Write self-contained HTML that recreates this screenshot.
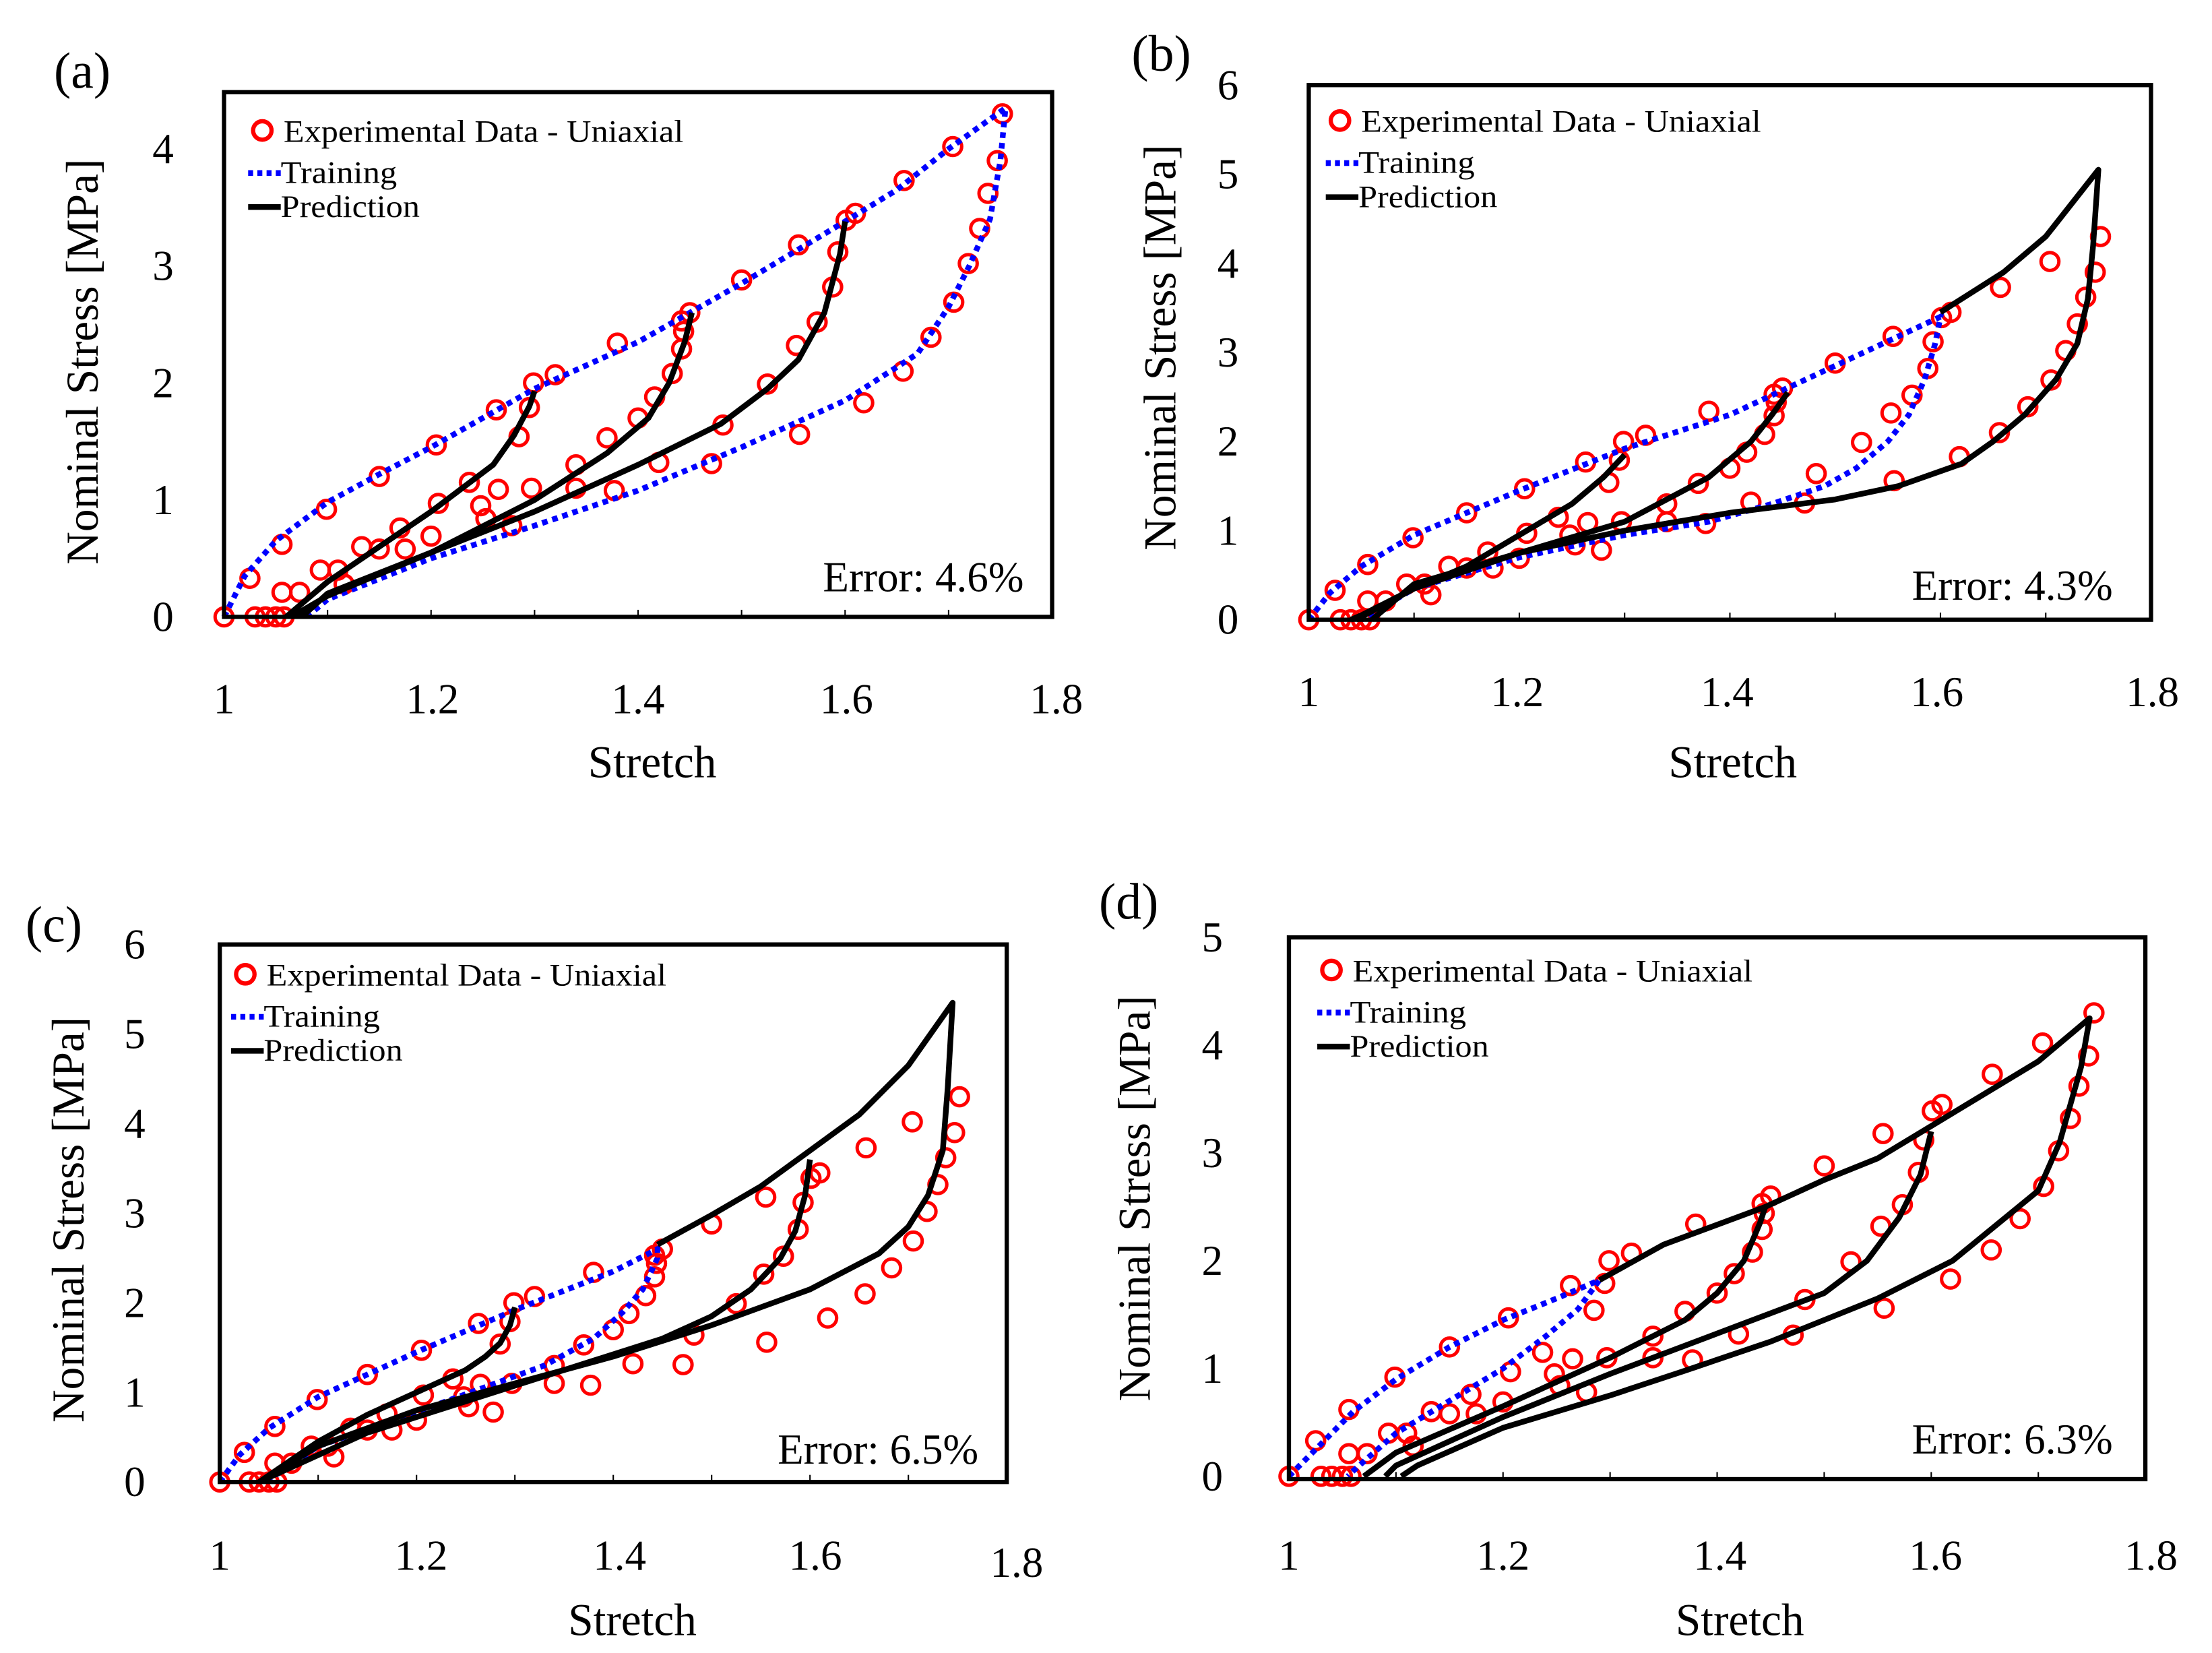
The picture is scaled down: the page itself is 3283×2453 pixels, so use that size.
<!DOCTYPE html>
<html><head><meta charset="utf-8"><style>
html,body{margin:0;padding:0;background:#fff;}
svg{display:block;}
text{font-family:"Liberation Serif",serif;fill:#000;}
</style></head><body>
<svg id="fig" xmlns="http://www.w3.org/2000/svg" width="3283" height="2453" viewBox="0 0 1560 1165.6" preserveAspectRatio="none"></svg>
<script>
// ---- experimental data (shared by all panels) ----
const expStretch = [1,1.025,1.056,1.03,1.04,1.05,1.058,1.056,1.073,1.099,1.093,1.11,1.116,1.133,1.15,1.15,1.17,1.175,1.2,1.205,1.207,1.237,1.248,1.253,1.263,1.265,1.278,1.285,1.295,1.299,1.32,1.297,1.34,1.34,1.37,1.38,1.377,1.4,1.416,1.42,1.433,1.442,1.442,1.45,1.444,1.471,1.482,1.5,1.525,1.553,1.555,1.556,1.573,1.588,1.593,1.601,1.61,1.618,1.656,1.657,1.683,1.704,1.705,1.719,1.73,1.738,1.747,1.752];
const expStress = [0,0.33,0.62,0,0,0,0,0.21,0.21,0.92,0.4,0.4,0.28,0.6,0.58,1.2,0.76,0.58,0.69,1.47,0.97,1.15,0.95,0.84,1.77,1.09,0.78,1.54,1.79,2.0,2.07,1.1,1.1,1.3,1.53,2.34,1.08,1.7,1.88,1.32,2.08,2.29,2.53,2.6,2.44,1.31,1.64,2.88,1.99,2.32,3.18,1.56,2.52,2.82,3.12,3.39,3.45,1.83,2.1,3.73,2.39,4.02,2.69,3.02,3.32,3.62,3.9,4.3];

// ---- panel (a) curves ----
const aTrainX = [1,1.02,1.05,1.1,1.15,1.2,1.3,1.4,1.5,1.6,1.65,1.7,1.755,1.75,1.74,1.72,1.7,1.67,1.6,1.5,1.4,1.3,1.2,1.1,1.08];
const aTrainY = [0,0.35,0.65,0.98,1.22,1.45,1.95,2.35,2.85,3.38,3.65,4.0,4.35,3.9,3.4,3.0,2.65,2.25,1.85,1.45,1.08,0.78,0.5,0.15,0];
const aPred1X = [1.3,1.295,1.28,1.26,1.23,1.2,1.15,1.1,1.06];
const aPred1Y = [1.93,1.8,1.55,1.3,1.1,0.9,0.6,0.3,0];
const aPred2X = [1.452,1.445,1.43,1.41,1.37,1.3,1.2,1.1,1.065];
const aPred2Y = [2.6,2.35,2.0,1.7,1.4,1.0,0.55,0.18,0];
const aPred3X = [1.6,1.595,1.58,1.555,1.525,1.48,1.4,1.3,1.2,1.1,1.075];
const aPred3Y = [3.38,3.1,2.6,2.2,1.95,1.65,1.3,0.9,0.55,0.2,0];

// ---- panel (b) curves ----
const bTrainX = [1,1.02,1.05,1.1,1.15,1.2,1.3,1.4,1.5,1.6,1.595,1.585,1.57,1.55,1.52,1.49,1.44,1.38,1.3,1.2,1.1,1.05];
const bTrainY = [0,0.3,0.6,0.95,1.2,1.45,1.92,2.3,2.85,3.4,3.1,2.7,2.3,2.0,1.7,1.5,1.3,1.1,0.95,0.7,0.35,0];
const bPred1X = [1.3,1.28,1.25,1.2,1.15,1.1,1.05,1.04];
const bPred1Y = [1.85,1.6,1.3,0.95,0.6,0.35,0.05,0];
const bPred2X = [1.455,1.44,1.42,1.38,1.3,1.2,1.1,1.045];
const bPred2Y = [2.55,2.3,2.0,1.6,1.1,0.75,0.35,0];
const bPred3X = [1.6,1.66,1.7,1.75,1.745,1.74,1.73,1.71,1.68,1.65,1.62,1.56,1.5,1.4,1.35,1.3,1.2,1.1,1.06];
const bPred3Y = [3.45,3.9,4.3,5.05,4.2,3.6,3.1,2.7,2.3,2.0,1.75,1.5,1.35,1.2,1.1,1.0,0.75,0.4,0];

// ---- panel (c) curves ----
const cTrainX = [1,1.02,1.05,1.1,1.15,1.2,1.3,1.4,1.445,1.445,1.43,1.41,1.38,1.33,1.25,1.2,1.1,1.06,1.045];
const cTrainY = [0,0.3,0.6,0.95,1.2,1.45,1.92,2.35,2.6,2.5,2.15,1.9,1.6,1.3,0.98,0.78,0.4,0.1,0];
const cPred1X = [1.3,1.295,1.285,1.27,1.25,1.2,1.15,1.1,1.04];
const cPred1Y = [1.95,1.75,1.55,1.4,1.25,1.0,0.75,0.45,0];
const cPred2X = [1.445,1.5,1.55,1.6,1.65,1.7,1.745,1.74,1.735,1.72,1.7,1.67,1.6,1.5,1.4,1.3,1.2,1.1,1.04];
const cPred2Y = [2.65,2.98,3.3,3.7,4.1,4.65,5.35,4.4,3.7,3.2,2.85,2.55,2.15,1.75,1.4,1.1,0.8,0.4,0];
const cPred3X = [1.6,1.595,1.585,1.57,1.54,1.5,1.45,1.35,1.25,1.15,1.04];
const cPred3Y = [3.6,3.2,2.8,2.5,2.15,1.85,1.6,1.25,0.9,0.55,0];

// ---- panel (d) curves ----
const dTrainX = [1,1.03,1.06,1.1,1.15,1.2,1.25,1.29,1.27,1.24,1.2,1.15,1.1,1.06,1.055];
const dTrainY = [0,0.3,0.6,0.9,1.2,1.45,1.65,1.82,1.55,1.3,1.0,0.7,0.4,0.05,0];
const dPred1X = [1.29,1.35,1.445,1.5,1.55,1.6,1.65,1.7,1.748,1.74,1.72,1.7,1.62,1.55,1.45,1.37,1.3,1.2,1.12,1.105];
const dPred1Y = [1.82,2.15,2.5,2.75,2.95,3.25,3.55,3.85,4.25,3.8,3.1,2.65,2.0,1.65,1.25,0.98,0.75,0.45,0.1,0];
const dPred2X = [1.445,1.44,1.425,1.4,1.37,1.3,1.2,1.1,1.07];
const dPred2Y = [2.5,2.35,2.0,1.7,1.45,1.1,0.65,0.22,0];
const dPred3X = [1.6,1.59,1.57,1.54,1.5,1.42,1.3,1.2,1.1,1.09];
const dPred3Y = [3.2,2.8,2.4,2.0,1.7,1.4,0.95,0.55,0.1,0];

// ---- tick labels ----
const xTickLabels = ["1","1.2","1.4","1.6","1.8"];
const xTickValues = [1,1.2,1.4,1.6,1.8];
const aYTicks = [0,1,2,3,4];
const bYTicks = [0,1,2,3,4,5,6];
const cYTicks = [0,1,2,3,4,5,6];
const dYTicks = [0,1,2,3,4,5];
const errorLabels = ["Error: 4.6%","Error: 4.3%","Error: 6.5%","Error: 6.3%"];

const NS = "http://www.w3.org/2000/svg";
const svg = document.getElementById('fig');
function mk(tag, attrs, parent){
  const e = document.createElementNS(NS, tag);
  for (const k in attrs) e.setAttribute(k, attrs[k]);
  (parent||svg).appendChild(e);
  return e;
}

const panels = [
 {id:'a', L:158,R:742,T:65,B:435, yMax:4.485, yTicks:aYTicks, yLabX:115, lab:[38,62], title:[58,255], stretch:[460,548], xLabY:503, err:[722,417], leg:[185,92],
  train:[aTrainX,aTrainY], preds:[[aPred1X,aPred1Y],[aPred2X,aPred2Y],[aPred3X,aPred3Y]], xLabPos:[158,305,450,597,745]},
 {id:'b', L:923,R:1517,T:60,B:437, yMax:6.0, yTicks:bYTicks, yLabX:866, lab:[798,50], title:[818,245], stretch:[1222,548], xLabY:498, err:[1490,423], leg:[945,85],
  train:[bTrainX,bTrainY], preds:[[bPred1X,bPred1Y],[bPred2X,bPred2Y],[bPred3X,bPred3Y]], xLabPos:[923,1070,1218,1366,1518]},
 {id:'c', L:155,R:710,T:666,B:1045, yMax:6.0, yTicks:cYTicks, yLabX:95, lab:[18,664], title:[48,860], stretch:[446,1153], xLabY:1107, err:[690,1032], leg:[173,687],
  train:[cTrainX,cTrainY], preds:[[cPred1X,cPred1Y],[cPred2X,cPred2Y],[cPred3X,cPred3Y]], xLabPos:[155,297,437,575,717]},
 {id:'d', L:909,R:1513,T:661,B:1043, yMax:5.0, yTicks:dYTicks, yLabX:855, lab:[775,648], title:[800,845], stretch:[1227,1153], xLabY:1107, err:[1490,1025], leg:[939,684],
  train:[dTrainX,dTrainY], preds:[[dPred1X,dPred1Y],[dPred2X,dPred2Y],[dPred3X,dPred3Y]], xLabPos:[909,1060,1213,1365,1517]}
];

panels.forEach((p, pi) => {
  const g = mk('g', {});
  
  
  const sx = v => p.L + (v - 1) / 0.8 * (p.R - p.L);
  const y0 = p.id === 'd' ? p.B - 2 : p.B;
  const sy = v => y0 - v / p.yMax * (y0 - p.T);

  const lab = mk('text', {x:p.lab[0], y:p.lab[1], 'font-size':36}, g);
  lab.textContent = '(' + p.id + ')';
  
  

  for (let v = 1.1; v < 1.8; v += 0.1) {
    const t = mk('line', {x1:sx(v), x2:sx(v), y1:p.B, y2:p.B-5, stroke:'#000', 'stroke-width':1}, g);
    
    
  }
  xTickValues.forEach((v, i) => {
    const t = mk('text', {x:p.xLabPos[i], y:p.xLabY + (p.id==='c'&&i===4?5:0), 'font-size':30, 'text-anchor':'middle'}, g);
    t.textContent = xTickLabels[i];
    
    
  });
  p.yTicks.forEach(v => {
    const t = mk('text', {x:p.yLabX, y:sy(v) + 10, 'font-size':30, 'text-anchor':'middle'}, g);
    t.textContent = String(v);
    
    
  });
  const xt = mk('text', {x:p.stretch[0], y:p.stretch[1], 'font-size':32, 'text-anchor':'middle'}, g);
  xt.textContent = 'Stretch';
  
  
  const yt = mk('text', {x:0, y:0, 'font-size':32, 'text-anchor':'middle', transform:`translate(${p.title[0]+11},${p.title[1]}) rotate(-90)`}, g);
  yt.textContent = 'Nominal Stress [MPa]';
  
  

  expStretch.forEach((xv, i) => {
    const c = mk('circle', {cx:sx(xv), cy:sy(expStress[i]), r:6.3, fill:'none', stroke:'#ff0000', 'stroke-width':2.4}, g);
    
    
  });
  const tp = p.train[0].map((xv, i) => sx(xv) + ',' + sy(p.train[1][i])).join(' ');
  const tl = mk('polyline', {points:tp, fill:'none', stroke:'#0000ff', 'stroke-width':4, 'stroke-dasharray':'4,3.5'}, g);
  
  
  p.preds.forEach(cv => {
    const pts = cv[0].map((xv, i) => sx(xv) + ',' + sy(cv[1][i])).join(' ');
    const pl = mk('polyline', {points:pts, fill:'none', stroke:'#000', 'stroke-width':4, 'stroke-linejoin':'round'}, g);
    
    
  });
  const fr = mk('rect', {x:p.L, y:p.T, width:p.R-p.L, height:p.B-p.T, fill:'none', stroke:'#000', 'stroke-width':3}, g);
  
  

  const lg = mk('g', {}, g);
  
  
  const [lx, ly] = p.leg;
  const lc = mk('circle', {cx:lx, cy:ly, r:6.5, fill:'none', stroke:'#ff0000', 'stroke-width':3}, lg);
  
  
  const l1 = mk('text', {x:lx+15, y:ly+8, 'font-size':22, textLength:282, lengthAdjust:'spacingAndGlyphs'}, lg);
  l1.textContent = 'Experimental Data - Uniaxial';
  
  
  const b1 = mk('line', {x1:lx-10, x2:lx+13, y1:ly+30, y2:ly+30, stroke:'#0000ff', 'stroke-width':4, 'stroke-dasharray':'3.5,3'}, lg);
  
  
  const l2 = mk('text', {x:lx+13, y:ly+37, 'font-size':22, textLength:82, lengthAdjust:'spacingAndGlyphs'}, lg);
  l2.textContent = 'Training';
  
  
  const b2 = mk('line', {x1:lx-10, x2:lx+13, y1:ly+54, y2:ly+54, stroke:'#000', 'stroke-width':4}, lg);
  
  
  const l3 = mk('text', {x:lx+13, y:ly+61, 'font-size':22, textLength:98, lengthAdjust:'spacingAndGlyphs'}, lg);
  l3.textContent = 'Prediction';
  
  

  const er = mk('text', {x:p.err[0], y:p.err[1], 'font-size':30, 'text-anchor':'end'}, g);
  er.textContent = errorLabels[pi];
  
  
});
</script>
</body></html>
